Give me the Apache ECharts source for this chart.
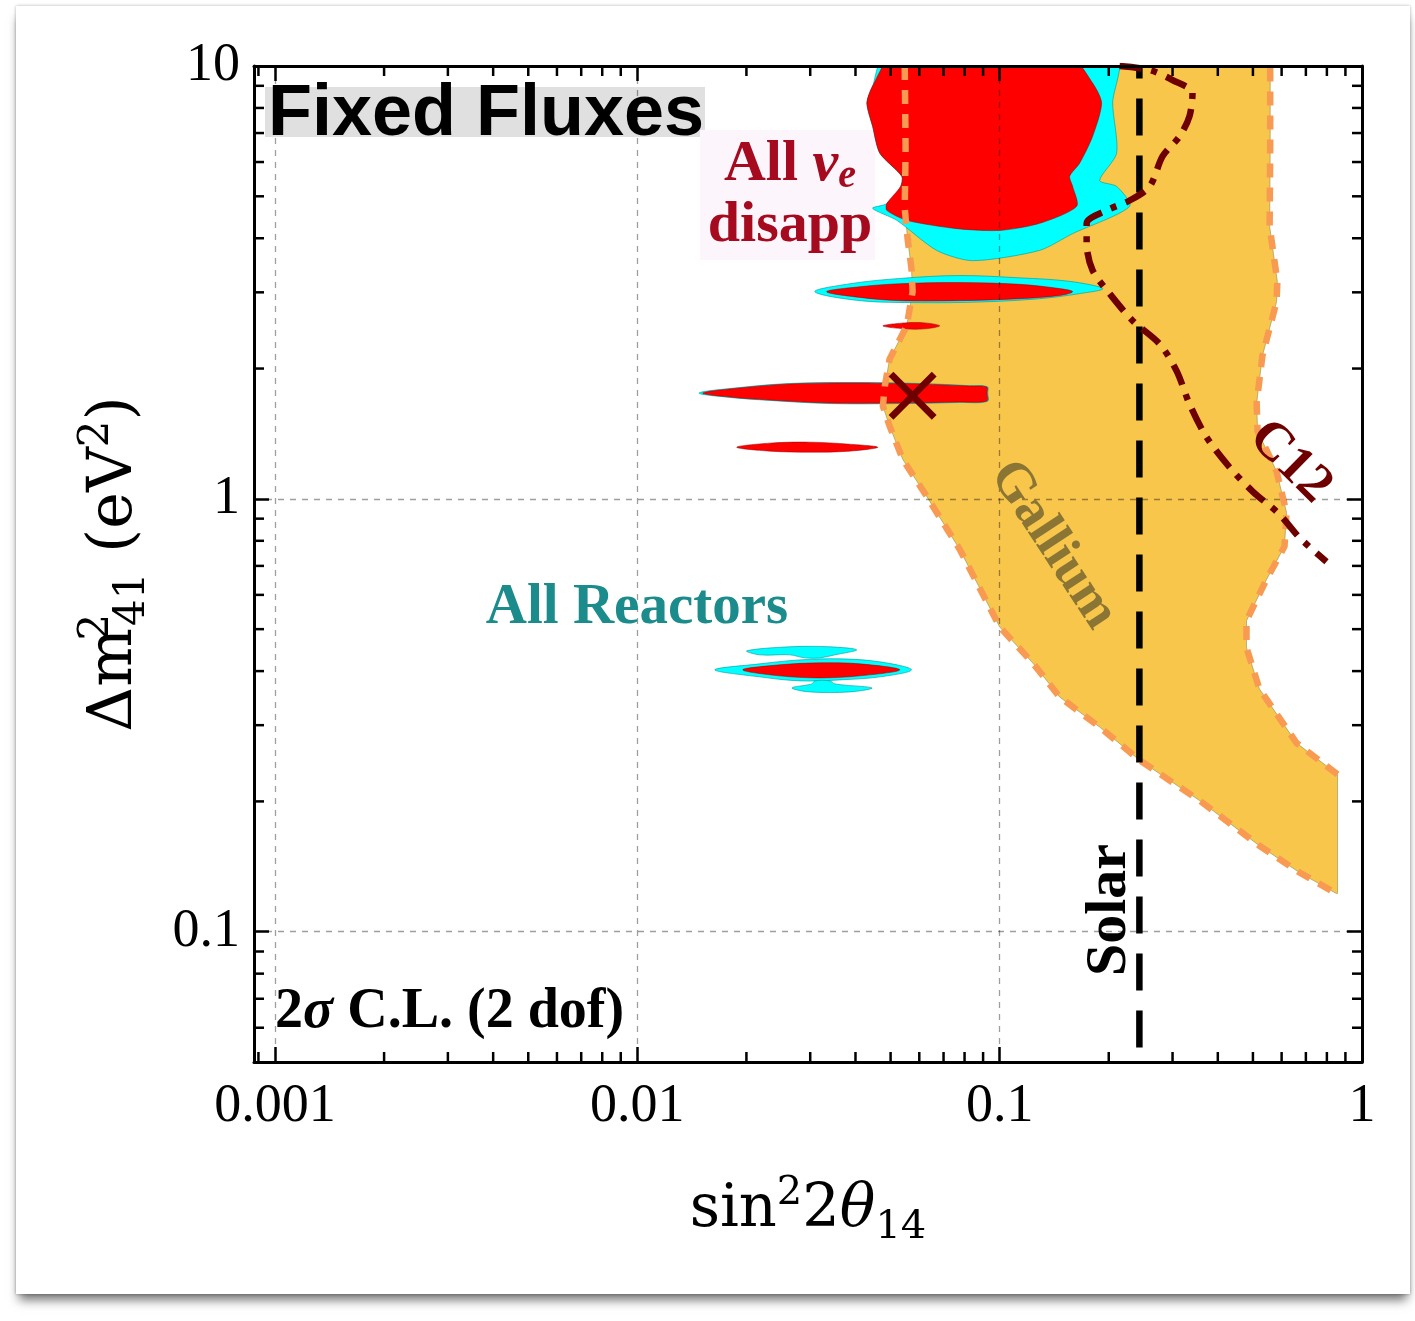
<!DOCTYPE html>
<html>
<head>
<meta charset="utf-8">
<script src="https://cdn.jsdelivr.net/npm/echarts@6/dist/echarts.min.js"></script>
<style>
  html, body { margin: 0; padding: 0; background: #fff; }
  #card { position: absolute; left: 16px; top: 6px; width: 1394px; height: 1288px; background: #fff;
          box-shadow: 0 9px 10px -3px rgba(0,0,0,0.55), 0 0 3px rgba(0,0,0,0.3); }
  #chart { position: absolute; left: 0; top: 0; width: 1415px; height: 1321px; }
</style>
</head>
<body>
<div id="card"></div>
<div id="chart"></div>
<script>
// Axis ranges and tick labels
const X_MIN = 0.000875, X_MAX = 1;
const Y_MIN = 0.05, Y_MAX = 10;
const X_TICKS = [0.001, 0.01, 0.1, 1];
const X_TICK_LABELS = ['0.001', '0.01', '0.1', '1'];
const Y_TICKS = [0.1, 1, 10];
const Y_TICK_LABELS = ['0.1', '1', '10'];
const X_MINOR = [0.0009, 0.002, 0.003, 0.004, 0.005, 0.006, 0.007, 0.008, 0.009,
                 0.02, 0.03, 0.04, 0.05, 0.06, 0.07, 0.08, 0.09,
                 0.2, 0.3, 0.4, 0.5, 0.6, 0.7, 0.8, 0.9];
const Y_MINOR = [0.06, 0.07, 0.08, 0.09, 0.2, 0.3, 0.4, 0.5, 0.6, 0.7, 0.8, 0.9,
                 2, 3, 4, 5, 6, 7, 8, 9];

// Gallium allowed band: left/lower edge (top to bottom) and right edge (bottom to top)
const GALLIUM_LEFT = [
  [0.0547, 10], [0.0550, 6.46], [0.0547, 4.69], [0.0557, 3.99], [0.0571, 3.40], [0.0575, 3.01],
  [0.0554, 2.51], [0.0497, 2.105], [0.0482, 1.822], [0.0476, 1.638], [0.0497, 1.472], [0.0540, 1.234],
  [0.0629, 1.013], [0.0776, 0.764], [0.100, 0.506], [0.1233, 0.418], [0.1464, 0.3485], [0.1888, 0.297],
  [0.2433, 0.249], [0.356, 0.201], [0.521, 0.158], [0.672, 0.137], [0.850, 0.1225]
];
const GALLIUM_RIGHT = [
  [0.856, 0.1225], [0.856, 0.231], [0.660, 0.2727], [0.521, 0.364], [0.480, 0.453], [0.480, 0.523],
  [0.545, 0.651], [0.611, 0.776], [0.619, 0.930], [0.581, 1.158], [0.515, 1.434], [0.512, 1.665],
  [0.531, 2.139], [0.581, 2.854], [0.584, 3.175], [0.556, 4.26], [0.558, 6.46], [0.558, 10]
];

// All reactors (outer) islands
const REACTOR_TOP = [
  [0.0482, 10.5], [0.0446, 8.99], [0.0430, 8.21], [0.0446, 7.26], [0.0467, 6.29], [0.0537, 5.56],
  [0.0533, 5.27], [0.0488, 4.81], [0.0446, 4.69], [0.0520, 4.40], [0.0670, 3.75], [0.0842, 3.55],
  [0.1289, 3.75], [0.1590, 4.10], [0.2284, 4.74], [0.2103, 5.27], [0.1888, 5.44], [0.2103, 6.29],
  [0.2050, 8.21], [0.2103, 10.5]
];
const REACTOR_3 = [
  [0.0309, 3.01], [0.0386, 3.14], [0.0530, 3.23], [0.0776, 3.28], [0.1135, 3.24], [0.1560, 3.18],
  [0.1924, 3.06], [0.1662, 2.98], [0.1289, 2.90], [0.0881, 2.85], [0.0602, 2.84], [0.0411, 2.87]
];
const REACTOR_1_8 = [
  [0.0148, 1.756], [0.0192, 1.808], [0.0263, 1.847], [0.0386, 1.857], [0.0602, 1.847], [0.0826, 1.826],
  [0.0925, 1.816], [0.0927, 1.756], [0.0925, 1.68], [0.0776, 1.67], [0.0530, 1.66], [0.0340, 1.66],
  [0.0232, 1.688], [0.0180, 1.715]
];
const REACTOR_0_4 = [
  [0.01636, 0.4027], [0.02177, 0.4157], [0.0281, 0.4246], [0.0362, 0.4270], [0.0467, 0.4202],
  [0.0571, 0.4027], [0.0467, 0.3879], [0.0362, 0.3817], [0.0281, 0.3797], [0.02177, 0.3879]
];
const REACTOR_0_45 = [
  [0.02005, 0.4456], [0.02634, 0.4552], [0.0340, 0.4552], [0.0403, 0.4479], [0.0351, 0.4361],
  [0.0319, 0.4292], [0.0290, 0.4292], [0.02634, 0.4361], [0.02177, 0.4361]
];
const REACTOR_0_37 = [
  [0.0267, 0.3658], [0.0303, 0.3737], [0.0309, 0.3797], [0.0340, 0.3797], [0.0351, 0.3737],
  [0.0444, 0.3658], [0.0386, 0.3581], [0.0299, 0.3581]
];

// All nu_e disappearance (inner) islands
const DISAPP_TOP = [
  [0.0507, 10.5], [0.0446, 8.99], [0.0430, 8.21], [0.0446, 7.26], [0.0467, 6.29], [0.0537, 5.56],
  [0.0533, 5.27], [0.0488, 4.81], [0.0488, 4.64], [0.0554, 4.40], [0.0761, 4.21], [0.100, 4.17],
  [0.1289, 4.33], [0.1631, 4.74], [0.1590, 5.27], [0.1560, 5.56], [0.1662, 5.96], [0.1805, 6.88],
  [0.1911, 8.21], [0.1805, 9.13], [0.1560, 10.5]
];
const DISAPP_3 = [
  [0.0333, 3.01], [0.0411, 3.09], [0.0530, 3.14], [0.0776, 3.16], [0.1135, 3.13], [0.1464, 3.06],
  [0.1590, 3.01], [0.1464, 2.95], [0.1135, 2.90], [0.0776, 2.87], [0.0530, 2.87], [0.0411, 2.92]
];
const DISAPP_2_5 = [[0.0476, 2.51], [0.0547, 2.55], [0.0621, 2.55], [0.0683, 2.51], [0.0621, 2.47], [0.0547, 2.47]];
const DISAPP_1_8 = [
  [0.01516, 1.756], [0.01918, 1.804], [0.02634, 1.843], [0.0386, 1.853], [0.0602, 1.843], [0.0826, 1.822],
  [0.0921, 1.813], [0.0923, 1.756], [0.0921, 1.683], [0.0776, 1.674], [0.0530, 1.665], [0.0340, 1.665],
  [0.0232, 1.692], [0.0180, 1.719]
];
const DISAPP_1_3 = [
  [0.0188, 1.316], [0.0232, 1.345], [0.0299, 1.352], [0.0386, 1.337], [0.0461, 1.316],
  [0.0386, 1.289], [0.0299, 1.282], [0.0232, 1.289]
];
const DISAPP_0_4 = [
  [0.01954, 0.4027], [0.0247, 0.4135], [0.0319, 0.4179], [0.0411, 0.4157], [0.0530, 0.4027],
  [0.0411, 0.390], [0.0319, 0.3858], [0.0247, 0.390]
];

// Solar bound and C12 bound
const SOLAR_X = 0.243;
const SOLAR_Y = [0.054, 10];
const C12_CURVE = [
  [0.2143, 10], [0.2594, 9.79], [0.300, 9.28], [0.3406, 8.66], [0.3342, 7.66], [0.3138, 6.88],
  [0.2817, 6.19], [0.2594, 5.27], [0.2284, 4.89], [0.1973, 4.64], [0.1738, 4.33], [0.1738, 3.89],
  [0.1805, 3.37], [0.2011, 2.98], [0.2328, 2.58], [0.2763, 2.28], [0.3078, 1.975], [0.3342, 1.656],
  [0.3724, 1.388], [0.431, 1.183], [0.4986, 1.041], [0.592, 0.921], [0.672, 0.814], [0.798, 0.716]
];
// Best fit point
const BEST_FIT = [0.0575, 1.73];

const SERIF = "'Liberation Serif', 'Times New Roman', serif";
const MATH = "'DejaVu Serif', 'Liberation Serif', serif";
const SANS = "'Liberation Sans', Arial, sans-serif";
const RED = '#FF0000', CYAN = '#00FFFF', GA_FILL = '#F7C64B', GA_EDGE = '#F99A52', DARK_RED = '#6E0000';
const DISAPP_TEXT = '#A50A1E';

function decadeLabel(values, labels) {
  return function (v) {
    for (let i = 0; i < values.length; i++) {
      if (Math.abs(v / values[i] - 1) < 1e-6) return labels[i];
    }
    return '';
  };
}

function regionSeries(regions, fill, stroke, z, smooth) {
  return {
    type: 'custom', coordinateSystem: 'cartesian2d', xAxisIndex: 0, yAxisIndex: 0,
    z: z, silent: true, clip: true,
    data: regions.map(r => r[0]),
    renderItem: function (params, api) {
      return {
        type: 'polygon',
        shape: { points: regions[params.dataIndex].map(p => api.coord(p)), smooth: smooth },
        style: { fill: fill, stroke: stroke, lineWidth: 1 }
      };
    }
  };
}

const MINOR_LEN = 10;
function minorTickSeries(values, isX) {
  return {
    type: 'custom', coordinateSystem: 'cartesian2d', xAxisIndex: 0, yAxisIndex: 0,
    z: 30, silent: true, clip: false,
    data: values.map(v => isX ? [v, Y_MIN] : [X_MIN, v]),
    renderItem: function (params, api) {
      const st = { stroke: '#000', lineWidth: 2.5 };
      if (isX) {
        const v = api.value(0);
        const b = api.coord([v, Y_MIN]), t = api.coord([v, Y_MAX]);
        return { type: 'group', children: [
          { type: 'line', shape: { x1: b[0], y1: b[1], x2: b[0], y2: b[1] - MINOR_LEN }, style: st },
          { type: 'line', shape: { x1: t[0], y1: t[1], x2: t[0], y2: t[1] + MINOR_LEN }, style: st }
        ] };
      }
      const v = api.value(1);
      const l = api.coord([X_MIN, v]), r = api.coord([X_MAX, v]);
      return { type: 'group', children: [
        { type: 'line', shape: { x1: l[0], y1: l[1], x2: l[0] + MINOR_LEN, y2: l[1] }, style: st },
        { type: 'line', shape: { x1: r[0], y1: r[1], x2: r[0] - MINOR_LEN, y2: r[1] }, style: st }
      ] };
    }
  };
}

const frameLine = { show: true, lineStyle: { color: '#000', width: 3 } };
const majorTick = { show: true, inside: true, length: 15, lineStyle: { color: '#000', width: 2.5 } };
const gridLine = { show: true, lineStyle: { color: 'rgba(0,0,0,0.38)', width: 1.3, type: [6, 6] } };

function titleRich(size, small) {
  return {
    t: { fontFamily: MATH, fontSize: size, lineHeight: size * 1.25, color: '#000' },
    it: { fontFamily: MATH, fontSize: size, lineHeight: size * 1.25, fontStyle: 'italic', color: '#000' },
    sup: { fontFamily: MATH, fontSize: small, lineHeight: small, verticalAlign: 'top', color: '#000' },
    supn: { fontFamily: MATH, fontSize: small, lineHeight: small, verticalAlign: 'top', width: 2, color: '#000' },
    sub: { fontFamily: MATH, fontSize: small, lineHeight: small, verticalAlign: 'bottom', color: '#000' }
  };
}

const chart = echarts.init(document.getElementById('chart'), null, { renderer: 'canvas', width: 1415, height: 1321 });

const option = {
  animation: false,
  backgroundColor: 'transparent',
  grid: { left: 254, right: 53, top: 66, bottom: 259, containLabel: false },
  xAxis: [
    {
      type: 'log', logBase: 10, min: X_MIN, max: X_MAX, position: 'bottom', z: 10,
      axisLine: frameLine, axisTick: majorTick, splitLine: gridLine, minorTick: { show: false },
      axisLabel: { formatter: decadeLabel(X_TICKS, X_TICK_LABELS), fontFamily: SERIF, fontSize: 54,
                   color: '#000', margin: 18, showMinLabel: true, showMaxLabel: true },
      name: '{t|sin}{sup|2}{t|2}{it|θ}{sub|14}', nameLocation: 'middle', nameGap: 112,
      nameTextStyle: { rich: titleRich(59, 40) }
    },
    {
      type: 'log', logBase: 10, min: X_MIN, max: X_MAX, position: 'top', z: 10,
      axisLine: frameLine, axisTick: majorTick, axisLabel: { show: false }, splitLine: { show: false }
    }
  ],
  yAxis: [
    {
      type: 'log', logBase: 10, min: Y_MIN, max: Y_MAX, position: 'left', z: 10,
      axisLine: frameLine, axisTick: majorTick, splitLine: gridLine, minorTick: { show: false },
      axisLabel: { formatter: decadeLabel(Y_TICKS, Y_TICK_LABELS), fontFamily: SERIF, fontSize: 54,
                   color: '#000', margin: 14, showMinLabel: true, showMaxLabel: true },
      name: '{t|Δm}{supn|2}{sub|41}{t| (eV}{sup|2}{t|)}', nameLocation: 'middle', nameGap: 100,
      nameTextStyle: { rich: titleRich(62, 42) }
    },
    {
      type: 'log', logBase: 10, min: Y_MIN, max: Y_MAX, position: 'right', z: 10,
      axisLine: frameLine, axisTick: majorTick, axisLabel: { show: false }, splitLine: { show: false }
    }
  ],
  graphic: [
    { type: 'rect', z: 1, shape: { x: 265, y: 87, width: 440, height: 50 }, style: { fill: '#E0E0E0' } },
    { type: 'text', z: 20, x: 268, y: 115,
      style: { text: 'Fixed Fluxes', fontFamily: SANS, fontWeight: 'bold', fontSize: 72, fill: '#000',
               align: 'left', verticalAlign: 'middle' } },
    { type: 'rect', z: 1, shape: { x: 700, y: 130, width: 175, height: 130 }, style: { fill: '#FCF6FC' } },
    { type: 'text', z: 20, x: 790, y: 165,
      style: { text: '{a|All }{n|ν}{e|e}', align: 'center', verticalAlign: 'middle', fill: DISAPP_TEXT,
               rich: {
                 a: { fontFamily: SERIF, fontWeight: 'bold', fontSize: 58, lineHeight: 64, fill: DISAPP_TEXT },
                 n: { fontFamily: SERIF, fontWeight: 'bold', fontStyle: 'italic', fontSize: 58, lineHeight: 64, fill: DISAPP_TEXT },
                 e: { fontFamily: SERIF, fontWeight: 'bold', fontStyle: 'italic', fontSize: 40, lineHeight: 40, verticalAlign: 'bottom', fill: DISAPP_TEXT }
               } } },
    { type: 'text', z: 20, x: 790, y: 226,
      style: { text: 'disapp', fontFamily: SERIF, fontWeight: 'bold', fontSize: 58, fill: DISAPP_TEXT,
               align: 'center', verticalAlign: 'middle' } },
    { type: 'text', z: 20, x: 637, y: 608,
      style: { text: 'All Reactors', fontFamily: SERIF, fontWeight: 'bold', fontSize: 57, fill: '#1B8B8B',
               align: 'center', verticalAlign: 'middle' } },
    { type: 'text', z: 20, x: 1053, y: 545, rotation: -0.99,
      style: { text: 'Gallium', fontFamily: SERIF, fontWeight: 'bold', fontSize: 54, fill: '#8B7535',
               align: 'center', verticalAlign: 'middle' } },
    { type: 'text', z: 20, x: 1290, y: 462, rotation: -0.78,
      style: { text: 'C12', fontFamily: SERIF, fontWeight: 'bold', fontSize: 54, fill: DARK_RED,
               align: 'center', verticalAlign: 'middle' } },
    { type: 'text', z: 20, x: 1110, y: 910, rotation: Math.PI / 2,
      style: { text: 'Solar', fontFamily: SERIF, fontWeight: 'bold', fontSize: 58, fill: '#000',
               align: 'center', verticalAlign: 'middle' } },
    { type: 'text', z: 20, x: 275, y: 1013,
      style: { text: '{a|2}{s|σ}{a| C.L. (2 dof)}', align: 'left', verticalAlign: 'middle', fill: '#000',
               rich: {
                 a: { fontFamily: SERIF, fontWeight: 'bold', fontSize: 56, fill: '#000' },
                 s: { fontFamily: SERIF, fontWeight: 'bold', fontStyle: 'italic', fontSize: 56, fill: '#000' }
               } } }
  ],
  series: [
    regionSeries([GALLIUM_LEFT.concat(GALLIUM_RIGHT)], GA_FILL, 'rgba(150,140,80,0.6)', 2, 0),
    regionSeries([REACTOR_TOP], CYAN, 'rgba(0,150,150,0.6)', 3, 0.25),
    regionSeries([REACTOR_3, REACTOR_1_8, REACTOR_0_4, REACTOR_0_45, REACTOR_0_37], CYAN, 'rgba(0,150,150,0.6)', 3, 0.35),
    regionSeries([DISAPP_TOP], RED, 'rgba(140,0,0,0.5)', 4, 0.25),
    regionSeries([DISAPP_3, DISAPP_2_5, DISAPP_1_8, DISAPP_1_3, DISAPP_0_4], RED, 'rgba(140,0,0,0.5)', 4, 0.35),
    {
      type: 'line', z: 5, silent: true, showSymbol: false, symbol: 'none', data: GALLIUM_LEFT,
      lineStyle: { color: GA_EDGE, width: 6.5, type: [14, 10], cap: 'butt' }
    },
    {
      type: 'line', z: 5, silent: true, showSymbol: false, symbol: 'none', data: GALLIUM_RIGHT.slice(1),
      lineStyle: { color: GA_EDGE, width: 6.5, type: [14, 10], cap: 'butt' }
    },
    {
      type: 'line', z: 6, silent: true, showSymbol: false, symbol: 'none',
      data: SOLAR_Y.map(y => [SOLAR_X, y]),
      lineStyle: { color: '#000', width: 6.5, type: [37, 20], cap: 'butt' }
    },
    {
      type: 'line', z: 6, silent: true, showSymbol: false, symbol: 'none', smooth: 0.3, data: C12_CURVE,
      lineStyle: { color: DARK_RED, width: 6.5, type: [22, 10, 6, 10], cap: 'butt' }
    },
    {
      type: 'scatter', z: 8, silent: true, data: [BEST_FIT],
      symbol: 'path://M0,10L10,0L50,40L90,0L100,10L60,50L100,90L90,100L50,60L10,100L0,90L40,50Z',
      symbolSize: 48, itemStyle: { color: DARK_RED, opacity: 1 }
    },
    minorTickSeries(X_MINOR, true),
    minorTickSeries(Y_MINOR, false)
  ]
};
chart.setOption(option);
</script>
</body>
</html>
